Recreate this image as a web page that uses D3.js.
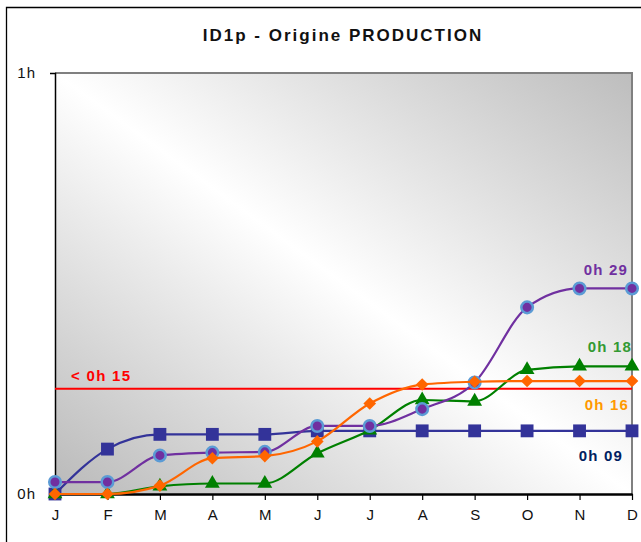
<!DOCTYPE html>
<html>
<head>
<meta charset="utf-8">
<script src="https://cdn.jsdelivr.net/npm/d3@7"></script>
<style>
  html, body { margin: 0; padding: 0; background: #fff; }
  svg { display: block; font-family: Arial, "Liberation Sans", sans-serif; }
</style>
</head>
<body>
<div id="chart"></div>
<script>
// month letters (x axis)
const months = ["J", "F", "M", "A", "M", "J", "J", "A", "S", "O", "N", "D"];
// y axis ticks, in minutes
const yTicks = [0, 60];
const yTickLabels = ["0h", "1h"];

// series values in minutes
const navyValues   = [0, 6.4, 8.5, 8.5, 8.5, 9.0, 9.0, 9.0, 9.0, 9.0, 9.0, 9.0];
const purpleValues = [1.7, 1.7, 5.5, 5.9, 6.0, 9.7, 9.7, 12.1, 15.9, 26.6, 29.3, 29.3];
const greenValues  = [0, 0, 1.1, 1.5, 1.5, 5.8, 9.1, 13.4, 13.2, 17.7, 18.2, 18.2];
const orangeValues = [0, 0, 1.2, 5.1, 5.4, 7.5, 12.9, 15.6, 16.0, 16.1, 16.1, 16.1];
const seriesLabels = ["0h 09", "0h 29", "0h 18", "0h 16"];
const limitValue = 15;
const limitLabel = "< 0h 15";

(() => {
    const width = 641, height = 542;
    const margin = { top: 73, right: 9, bottom: 48, left: 55 };
    const innerW = width - margin.left - margin.right;
    const innerH = height - margin.top - margin.bottom;

    const svg = d3.select("#chart").append("svg")
        .attr("width", width)
        .attr("height", height);

    const defs = svg.append("defs");

    // diagonal gradient: gray corners, white along the middle
    const grad = defs.append("linearGradient")
        .attr("id", "bg")
        .attr("x1", 0).attr("y1", 1).attr("x2", 1).attr("y2", 0);
    grad.append("stop").attr("offset", "0%").attr("stop-color", "#b9b9b9");
    grad.append("stop").attr("offset", "50%").attr("stop-color", "#ffffff");
    grad.append("stop").attr("offset", "100%").attr("stop-color", "#bdbdbd");

    // outer frame (only left and top edges show)
    svg.append("path")
        .attr("d", "M6.5,545 V7.5 H645")
        .attr("fill", "none")
        .attr("stroke", "#000")
        .attr("stroke-width", 1.3);

    svg.append("text")
        .attr("x", 343).attr("y", 41)
        .attr("text-anchor", "middle")
        .attr("font-size", 17)
        .attr("font-weight", "bold")
        .attr("letter-spacing", "2px")
        .attr("fill", "#111")
        .text("ID1p - Origine PRODUCTION");

    const x = d3.scalePoint()
        .domain(d3.range(months.length))
        .range([0, innerW]);

    const y = d3.scaleLinear()
        .domain([0, 60])
        .range([innerH, 0]);

    const chart = svg.append("g")
        .attr("transform", `translate(${margin.left},${margin.top})`);

    chart.append("rect")
        .attr("width", innerW)
        .attr("height", innerH)
        .attr("fill", "url(#bg)");

    // gray top and right borders of the plot area
    chart.append("path")
        .attr("d", `M0,0 H${innerW} V${innerH}`)
        .attr("fill", "none")
        .attr("stroke", "#808080")
        .attr("stroke-width", 2);

    // y axis
    const yAxis = chart.append("g")
        .call(d3.axisLeft(y)
            .tickValues(yTicks)
            .tickFormat((d, i) => yTickLabels[i])
            .tickSize(5)
            .tickPadding(14));
    yAxis.select(".domain").attr("stroke-width", 1.5);
    yAxis.selectAll("text")
        .attr("font-size", 15)
        .attr("letter-spacing", "1px")
        .attr("fill", "#111")
        .attr("font-family", "Arial, 'Liberation Sans', sans-serif");

    // x axis
    const xAxis = chart.append("g")
        .attr("transform", `translate(0,${innerH})`)
        .call(d3.axisBottom(x)
            .tickFormat(i => months[i])
            .tickSize(6)
            .tickSizeOuter(0)
            .tickPadding(9));
    xAxis.select(".domain").attr("stroke-width", 2.5);
    xAxis.selectAll(".tick line").attr("stroke-width", 1.2);
    xAxis.selectAll("text")
        .attr("font-size", 15)
        .attr("fill", "#111")
        .attr("font-family", "Arial, 'Liberation Sans', sans-serif");

    // red limit line
    chart.append("line")
        .attr("x1", 0).attr("x2", innerW)
        .attr("y1", y(limitValue)).attr("y2", y(limitValue))
        .attr("stroke", "#ff0000")
        .attr("stroke-width", 2.2);

    chart.append("text")
        .attr("x", 16).attr("y", y(limitValue) - 8)
        .attr("font-size", 15)
        .attr("font-weight", "bold")
        .attr("letter-spacing", "1.3px")
        .attr("fill", "#ff0000")
        .text(limitLabel);

    const line = d3.line()
        .x((d, i) => x(i))
        .y(d => y(d))
        .curve(d3.curveMonotoneX);

    // rotated square for the orange markers
    const diamond = {
        draw(ctx, size) {
            const r = Math.sqrt(size / 2);
            ctx.moveTo(0, -r);
            ctx.lineTo(r, 0);
            ctx.lineTo(0, r);
            ctx.lineTo(-r, 0);
            ctx.closePath();
        }
    };

    const series = [
        { values: navyValues,   color: "#333399", symbol: d3.symbolSquare,   size: 165, fill: "#333399", stroke: "none" },
        { values: greenValues,  color: "#008000", symbol: d3.symbolTriangle, size: 95,  fill: "#008000", stroke: "none" },
        { values: purpleValues, color: "#7030a0", symbol: d3.symbolCircle,   size: 105, fill: "#7030a0", stroke: "#5b9bd5" },
        { values: orangeValues, color: "#ff6600", symbol: diamond,           size: 80,  fill: "#ff6600", stroke: "none" }
    ];

    series.forEach(s => {
        chart.append("path")
            .datum(s.values)
            .attr("fill", "none")
            .attr("stroke", s.color)
            .attr("stroke-width", 2.2)
            .attr("d", line);

        chart.selectAll(null)
            .data(s.values)
            .enter()
            .append("path")
            .attr("transform", (d, i) => `translate(${x(i)},${y(d)})`)
            .attr("d", d3.symbol().type(s.symbol).size(s.size))
            .attr("fill", s.fill)
            .attr("stroke", s.stroke)
            .attr("stroke-width", 2.5);
    });

    // end-of-line labels
    const last = months.length - 1;
    const endLabels = [
        { text: seriesLabels[0], v: navyValues[last],   dy: 30,  color: "#002060", dx: -9 },
        { text: seriesLabels[1], v: purpleValues[last], dy: -13, color: "#7030a0", dx: -4 },
        { text: seriesLabels[2], v: greenValues[last],  dy: -14, color: "#339933", dx: 0 },
        { text: seriesLabels[3], v: orangeValues[last], dy: 29,  color: "#ff9900", dx: -3 }
    ];

    chart.selectAll(".endlabel")
        .data(endLabels)
        .enter()
        .append("text")
        .attr("class", "endlabel")
        .attr("x", d => x(last) + d.dx)
        .attr("y", d => y(d.v) + d.dy)
        .attr("text-anchor", "end")
        .attr("font-size", 15)
        .attr("font-weight", "bold")
        .attr("letter-spacing", "1.2px")
        .attr("fill", d => d.color)
        .text(d => d.text);
})();
</script>
</body>
</html>
